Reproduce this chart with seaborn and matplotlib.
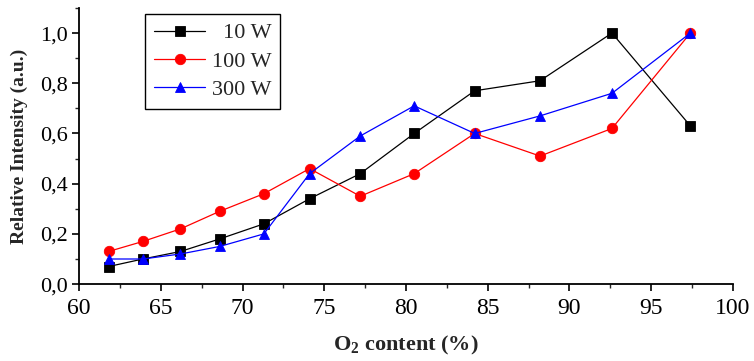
import matplotlib
matplotlib.use("Agg")
import matplotlib.pyplot as plt
import seaborn as sns
import pandas as pd
from matplotlib.ticker import MultipleLocator, FuncFormatter

o2 = [61.8, 63.9, 66.2, 68.6, 71.3, 74.1, 77.2, 80.5, 84.2, 88.2, 92.6, 97.4]
w10 = [0.07, 0.10, 0.13, 0.18, 0.24, 0.34, 0.44, 0.60, 0.77, 0.81, 1.00, 0.63]
w100 = [0.13, 0.17, 0.22, 0.29, 0.36, 0.46, 0.35, 0.44, 0.60, 0.51, 0.62, 1.00]
w300 = [0.10, 0.10, 0.12, 0.15, 0.20, 0.44, 0.59, 0.71, 0.60, 0.67, 0.76, 1.00]
labels = ["\u200710 W", "100 W", "300 W"]

df = pd.concat([
    pd.DataFrame({"o2": o2, "val": v, "power": lab})
    for v, lab in zip([w10, w100, w300], labels)
])

sns.set_style("ticks")
plt.rcParams["font.family"] = ["Liberation Serif", "DejaVu Serif"]
plt.rcParams["mathtext.fontset"] = "custom"
plt.rcParams["mathtext.rm"] = "Liberation Serif"
plt.rcParams["mathtext.bf"] = "Liberation Serif:bold"

fig = plt.figure(figsize=(7.54, 3.61), dpi=100)
ax = fig.add_axes([0.105, 0.213, 0.867, 0.765])

palette = {labels[0]: "black", labels[1]: "red", labels[2]: "blue"}
markers = {labels[0]: "s", labels[1]: "o", labels[2]: "^"}
sns.lineplot(data=df, x="o2", y="val", hue="power", style="power",
             palette=palette, markers=markers, dashes=False,
             linewidth=0.9, markersize=7.5, markeredgewidth=0.6, ax=ax)
for line in ax.get_lines():
    line.set_markeredgecolor(line.get_color())

ax.set_xlim(60, 100)
ax.set_ylim(0, 1.1)
ax.xaxis.set_major_locator(MultipleLocator(5))
ax.xaxis.set_minor_locator(MultipleLocator(2.5))
ax.yaxis.set_major_locator(MultipleLocator(0.2))
ax.yaxis.set_minor_locator(MultipleLocator(0.1))
ax.yaxis.set_major_formatter(FuncFormatter(lambda v, p: f"{v:.1f}".replace(".", ",")))
ax.tick_params(axis="both", which="major", direction="out", length=5, width=1.2,
               colors="black")
ax.tick_params(axis="x", which="major", labelsize=17, pad=5)
ax.tick_params(axis="y", which="major", labelsize=16, pad=3)
ax.tick_params(axis="both", which="minor", direction="out", length=3, width=1.0)
for s in ["top", "right"]:
    ax.spines[s].set_visible(False)
for s in ["left", "bottom"]:
    ax.spines[s].set_linewidth(1.3)
    ax.spines[s].set_color("black")

ax.set_xlabel(r"O$_\mathbf{2}$ content (%)", fontsize=16, fontweight="bold", labelpad=11)
ax.set_ylabel("Relative Intensity (a.u.)", fontsize=14, fontweight="bold", labelpad=9)

leg = ax.legend(loc="upper left", bbox_to_anchor=(0.101, 0.978), fontsize=16,
                frameon=True, fancybox=False, edgecolor="black", framealpha=1,
                borderpad=0.4, labelspacing=0.35, handlelength=2.3, handletextpad=0.3,
                borderaxespad=0)
leg.get_frame().set_linewidth(1.0)

fig.savefig("out.png", dpi=100)
